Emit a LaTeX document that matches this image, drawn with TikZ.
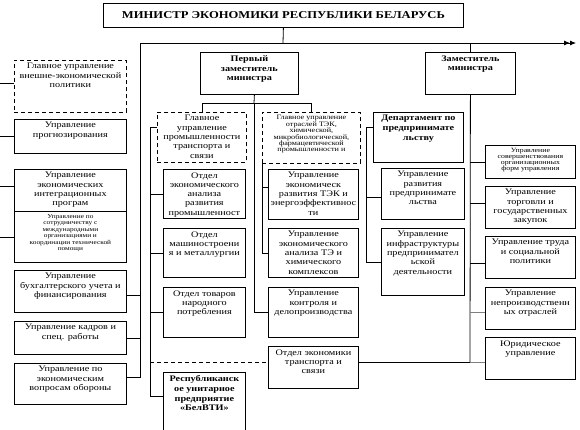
\documentclass[tikz,border=0pt]{standalone}
\usepackage{fontspec}
\setmainfont{Liberation Serif}[FakeStretch=1.2]
\usetikzlibrary{arrows.meta, calc}

% text of a unit box: width, height, lines (top aligned)
\newcommand{\bt}[3]{\parbox[t][#2pt][t]{\dimexpr#1pt-3pt\relax}{\centering\vspace*{3pt}#3}}

\tikzset{
  box/.style={draw, anchor=north west, inner xsep=1.5pt, inner ysep=0pt,
    font=\fontsize{8.5}{9.3}\selectfont},
  dbox/.style={box, dash pattern=on 4pt off 3pt},
  smalltext/.style={font=\fontsize{6.1}{6.4}\selectfont},
  tinytext/.style={font=\fontsize{6.5}{6.0}\selectfont},
  headtext/.style={font=\fontsize{8.5}{9.8}\selectfont\bfseries},
}

\begin{document}
\begin{tikzpicture}[x=1pt, y=-1pt, line width=0.8pt]
    \useasboundingbox (0,0) rectangle (580,429);

    % ---------------- MINISTER ---------------- %
    \node[draw, anchor=north west, minimum width=360pt, minimum height=24pt, inner sep=0pt,
      font=\fontsize{10.5}{12}\selectfont\bfseries] (minister) at (103,3)
      {МИНИСТР ЭКОНОМИКИ РЕСПУБЛИКИ БЕЛАРУСЬ};

    % Helper coordinates
    \coordinate (top) at (283,43);
    \coordinate (left) at (140,43);
    \coordinate (arrowend) at (576,43);
    \coordinate (edge) at (0,0);
    \coordinate (bar) at (0,103);
    \coordinate (fork) at (254,103);
    \coordinate (spineA) at (150,0);
    \coordinate (spineAend) at (150,396);
    \coordinate (spineC) at (366,0);
    \coordinate (jur) at (470,362);

    % ---------------- LEFT COLUMN ---------------- %
    \node[dbox] (ext) at (14,60) {\bt{112}{52}{Главное управление\\внешне-экономической\\политики}};
    \node[box] (prog) at (14,119) {\bt{112}{34}{Управление\\прогнозирования}};
    \node[box] (integ) at (14,169) {\bt{112}{42}{Управление\\экономических\\интеграционных\\програм}};
    \node[box, smalltext] (coop) at (14,211) {\bt{112}{51}{Управление по\\сотрудничеству с\\международными\\организациями и\\координации технической\\помощи}};
    \node[box] (acc) at (14,270) {\bt{112}{42}{Управление\\бухгалтерского учета и\\финансирования}};
    \node[box] (hr) at (14,321) {\bt{112}{33}{Управление кадров и\\спец. работы}};
    \node[box] (def) at (14,363) {\bt{112}{41}{Управление по\\экономическим\\вопросам обороны}};

    % ---------------- FIRST DEPUTY ---------------- %
    \node[box, headtext] (first) at (200,52) {\bt{98}{42}{Первый\\заместитель\\министра}};

    \node[dbox] (prom) at (157,112) {\bt{89}{50}{Главное\\управление\\промышленности\\транспорта и\\связи}};
    \node[box] (anal) at (163,169) {\bt{82}{49}{Отдел\\экономического\\анализа\\развития\\промышленност}};
    \node[box] (mach) at (163,228) {\bt{82}{49}{Отдел\\машиностроени\\я и металлургии}};
    \node[box] (cons) at (163,287) {\bt{82}{50}{Отдел товаров\\народного\\потребления}};
    \node[box, headtext] (belvti) at (163,372) {\bt{82}{62}{Республиканск\\ое унитарное\\предприятие\\«БелВТИ»}};

    \node[dbox, font=\fontsize{6.8}{6.4}\selectfont] (tek) at (262,112) {\bt{98}{51}{Главное управление\\отраслей ТЭК,\\химической,\\микробиологической,\\фармацевтической\\промышленности и}};
    \node[box] (tekdev) at (268,169) {\bt{90}{50}{Управление\\экономическ\\развития ТЭК и\\энергоэффективнос\\ти}};
    \node[box] (tekan) at (268,228) {\bt{90}{49}{Управление\\экономического\\анализа ТЭ и\\химического\\комплексов}};
    \node[box] (ctrl) at (268,287) {\bt{90}{50}{Управление\\контроля и\\делопроизводства}};
    \node[box] (trans) at (268,346) {\bt{90}{42}{Отдел экономики\\транспорта и\\связи}};

    % ---------------- DEPUTY ---------------- %
    \node[box, headtext] (deputy) at (425,52) {\bt{90}{42}{Заместитель\\министра}};

    \node[box, headtext] (dept) at (373,112) {\bt{90}{50}{Департамент по\\предпринимате\\льству}};
    \node[box] (entdev) at (381,168) {\bt{83}{51}{Управление\\развития\\предпринимате\\льства}};
    \node[box] (infra) at (381,228) {\bt{83}{67}{Управление\\инфраструктуры\\предпринимател\\ьской\\деятельности}};

    \node[box, tinytext] (forms) at (485,145) {\bt{90}{33}{Управление\\совершенствования\\организационных\\форм управления}};
    \node[box] (trade) at (485,186) {\bt{90}{42}{Управление\\торговли и\\государственных\\закупок}};
    \node[box] (labor) at (485,236) {\bt{90}{42}{Управление труда\\и социальной\\политики}};
    \node[box] (nonprod) at (485,287) {\bt{90}{42}{Управление\\непроизводственн\\ых отраслей}};
    \node[box] (law) at (485,337) {\bt{90}{42}{Юридическое\\управление}};

    % ---------------- CONNECTORS ---------------- %
    % Main bar
    \draw (minister.south) -- (top);
    \draw[-{Latex[length=6pt,width=5pt]Latex[length=6pt,width=5pt]}] (left) -- (arrowend);

    % Left column
    \draw (left) |- ($(def.east)+(0,-6.5)$);
    \draw ($(acc.east)+(0,4)$) -- ($(acc.east -| left)+(0,4)$);
    \draw (hr.east) -- (hr.east -| left);
    \foreach \n/\s in {ext/-3, prog/0, integ/-4, coop/0}
        \draw ($(\n.west)+(0,\s)$) -- ($(\n.west -| edge)+(0,\s)$);

    % First deputy
    \draw ([xshift=5pt]first.south) -- (fork);
    \draw (prom.north) -- (prom.north |- bar) -| (tek.north);
    \draw (fork) |- (ctrl.west);
    \draw ($(prom.west)+(0,-10)$) -| (spineAend) -- (spineAend -| belvti.west);
    \foreach \n in {anal, mach, cons}
        \draw (\n.west) -- (\n.west -| spineA);
    \draw[dash pattern=on 4pt off 3pt] (spineA |- jur) -- (trans.west |- jur);
    \draw (tek.south west) |- ($(tekdev.west)+(0,-7)$);
    \draw (tek.south west) |- (tekan.west);

    % Deputy
    \draw (deputy.north) -- (deputy.north |- top);
    \draw (deputy.south) -- (jur);
    \draw (trans.east |- jur) -- (jur);
    \draw ($(dept.west)+(0,-10)$) -| (spineC |- infra.west) -- (infra.west);
    \draw ($(entdev.west)+(0,3)$) -- ($(entdev.west -| spineC)+(0,3)$);
    \foreach \n/\s in {forms/0, trade/-4, labor/6}
        \draw ($(\n.west)+(0,\s)$) -- ($(\n.west -| jur)+(0,\s)$);
    \draw[gray] ($(nonprod.west)+(0,4)$) -- ($(nonprod.west -| jur)+(0,4)$);
    \draw[gray] (jur) -- (law.west |- jur);
\end{tikzpicture}
\end{document}
